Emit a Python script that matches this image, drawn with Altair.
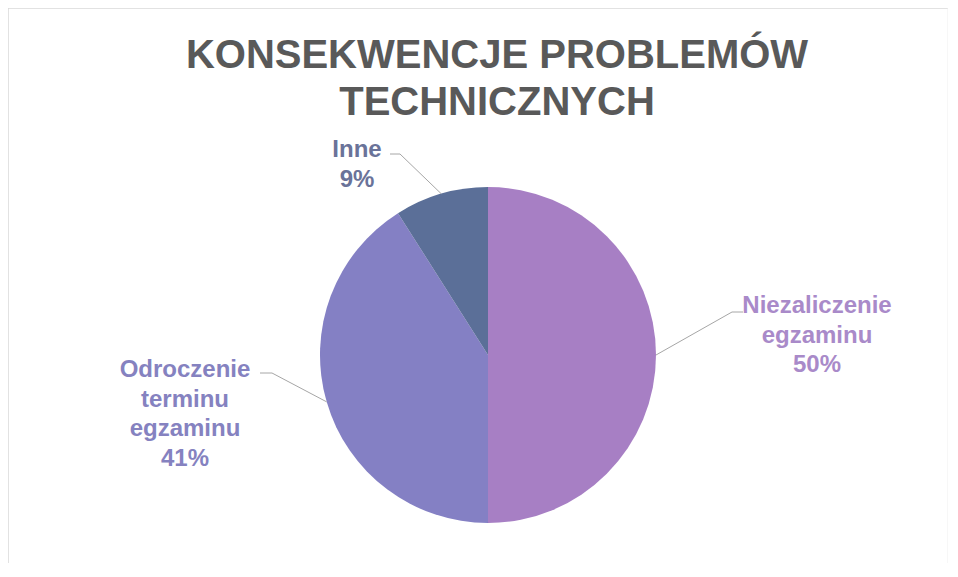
import math
import altair as alt
import pandas as pd

# ---------------- data ----------------
categories = ["Niezaliczenie egzaminu", "Odroczenie terminu egzaminu", "Inne"]
label_lines = [["Niezaliczenie", "egzaminu"], ["Odroczenie", "terminu", "egzaminu"], ["Inne"]]
values = [50, 41, 9]
title_lines = ["KONSEKWENCJE PROBLEMÓW", "TECHNICZNYCH"]

# ---------------- style / layout ----------------
slice_colors = ["#A77FC4", "#8480C4", "#5B6F98"]
label_colors = ["#A98AC9", "#8582C0", "#6A7399"]
FONT = "Liberation Sans"
W, H = 940, 555
CX, CY, R = 480, 347, 168
# offsets from pie centre: text centre / first baseline, leader anchor, elbow shift
label_layout = {
    "Niezaliczenie egzaminu": dict(tx=329, ty=-42, ax=255, ay=-43, elbow=-11),
    "Odroczenie terminu egzaminu": dict(tx=-303, ty=22, ax=-228, ay=18, elbow=12),
    "Inne": dict(tx=-131, ty=-198, ax=-98, ay=-201, elbow=10),
}

total = sum(values)
rows, leader_rows = [], []
cum = 0.0
for i, (cat, v) in enumerate(zip(categories, values)):
    mid = (cum + v / 2.0) / total * 2 * math.pi
    cum += v
    pct = f"{round(100 * v / total)}%"
    lay = label_layout[cat]
    rows.append(dict(
        idx=i, category=cat, value=v,
        label="\n".join(label_lines[i] + [pct]),
        fill=slice_colors[i], tcolor=label_colors[i],
        tx=CX + lay["tx"], ty=CY + lay["ty"],
    ))
    ex, ey = CX + R * math.sin(mid), CY - R * math.cos(mid)
    axp, ayp = CX + lay["ax"], CY + lay["ay"]
    pts = [(ex, ey), (axp + lay["elbow"], ayp), (axp, ayp)]
    for k, (px, py) in enumerate(pts):
        leader_rows.append(dict(category=cat, k=k, x=px, y=py))

df = pd.DataFrame(rows)
leaders = pd.DataFrame(leader_rows)

xs = alt.Scale(domain=[0, W], nice=False, zero=False)
ys = alt.Scale(domain=[0, H], nice=False, zero=False, reverse=True)

pie = alt.Chart(df).mark_arc(radius=R, strokeWidth=0).encode(
    theta=alt.Theta("value:Q", stack=True),
    fill=alt.Fill("fill:N", scale=None),
    order=alt.Order("idx:Q"),
    x=alt.value(CX),
    y=alt.value(CY),
)

leader = alt.Chart(leaders).mark_line(color="#A6A6A6", strokeWidth=1).encode(
    x=alt.X("x:Q", scale=xs, axis=None),
    y=alt.Y("y:Q", scale=ys, axis=None),
    detail="category:N",
    order="k:Q",
)

labels = alt.Chart(df).mark_text(
    font=FONT, fontSize=24, fontWeight="bold", align="center",
    baseline="alphabetic", lineBreak="\n", lineHeight=29.5,
).encode(
    x=alt.X("tx:Q", scale=xs, axis=None),
    y=alt.Y("ty:Q", scale=ys, axis=None),
    text="label:N",
    color=alt.Color("tcolor:N", scale=None),
)

title = alt.Chart(pd.DataFrame({"t": ["\n".join(title_lines)]})).mark_text(
    font=FONT, fontSize=40, fontWeight="bold", color="#595959", align="center",
    baseline="alphabetic", lineBreak="\n", lineHeight=47,
).encode(text="t:N", x=alt.value(489), y=alt.value(60))

border_src = pd.DataFrame({"d": [0]})
top_b = alt.Chart(border_src).mark_rule(color="#D9D9D9", strokeWidth=1.5).encode(
    x=alt.value(0), x2=alt.value(W), y=alt.value(0))
left_b = alt.Chart(border_src).mark_rule(color="#D9D9D9", strokeWidth=1.5).encode(
    x=alt.value(0), y=alt.value(0), y2=alt.value(H))
right_b = alt.Chart(border_src).mark_rule(color="#EEEEEE", strokeWidth=1).encode(
    x=alt.value(W), y=alt.value(0), y2=alt.value(H))

chart = alt.layer(top_b, left_b, right_b, pie, leader, labels, title).properties(
    width=W, height=H, padding=0,
    autosize=alt.AutoSizeParams(type="none"),
    background="white",
).configure_view(stroke=None)

chart.save("out.html", embed_options={"renderer": "svg", "actions": False})
